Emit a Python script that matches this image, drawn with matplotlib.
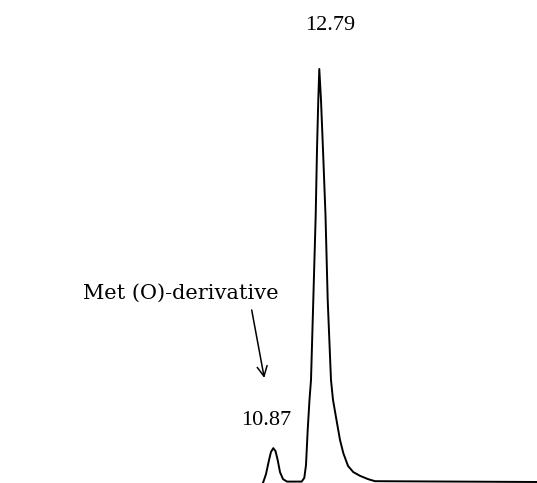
import numpy as np
import matplotlib.pyplot as plt

plt.rcParams.update({
    "font.family": "serif",
    "font.serif": ["Liberation Serif"],
    "font.size": 16,
})

# chromatogram trace: retention time (min) vs relative detector response
rt = [10.357, 10.453, 10.565, 10.691, 10.774, 10.870, 10.962, 11.054, 11.150, 11.275,
      11.442, 12.055, 12.164, 12.235, 12.306, 12.381, 12.444, 12.540, 12.640, 12.694,
      12.748, 12.790, 12.861, 12.945, 13.049, 13.141, 13.278, 13.362, 13.508, 13.654,
      13.792, 13.988, 14.209, 14.489, 14.823, 15.115, 22.000]
signal = [-0.012, 0.000, 0.019, 0.053, 0.073, 0.082, 0.075, 0.053, 0.024, 0.007,
          0.001, 0.001, 0.010, 0.041, 0.126, 0.199, 0.247, 0.441, 0.646, 0.804,
          0.925, 1.000, 0.925, 0.804, 0.646, 0.441, 0.247, 0.199, 0.150, 0.102,
          0.070, 0.039, 0.024, 0.015, 0.007, 0.002, 0.000]

peak_rt = [10.87, 12.79]
peak_h = [0.082, 1.000]
peak_offsets = [(-4.8, 19.7), (7.7, 31.3)]

fig = plt.figure(figsize=(5.37, 4.83), dpi=100)
ax = fig.add_axes([0, 0, 1, 1])

ax.plot(rt, signal, color="black", lw=1.4, solid_joinstyle="round")

for t, h, off in zip(peak_rt, peak_h, peak_offsets):
    ax.annotate(f"{t:.2f}", xy=(t, h), xytext=off, textcoords="offset points",
                ha="center", va="center", fontsize=16)

# label + arrow pointing at the small peak
ax.text(181 / 537, 1 - 293 / 483, "Met (O)-derivative", transform=fig.transFigure,
        ha="center", va="center", fontsize=15, family="DejaVu Serif")
ax.annotate("", xy=(264.3 / 537, 1 - 378 / 483), xytext=(251.7 / 537, 1 - 310 / 483),
            xycoords="figure fraction", textcoords="figure fraction",
            arrowprops=dict(arrowstyle="->", color="black", lw=1.1,
                            mutation_scale=18, shrinkA=0, shrinkB=0))

ax.set_xlim(-0.537, 21.877)
ax.set_ylim(-0.0024, 1.167)
ax.axis("off")

fig.savefig("out.png", dpi=100)
